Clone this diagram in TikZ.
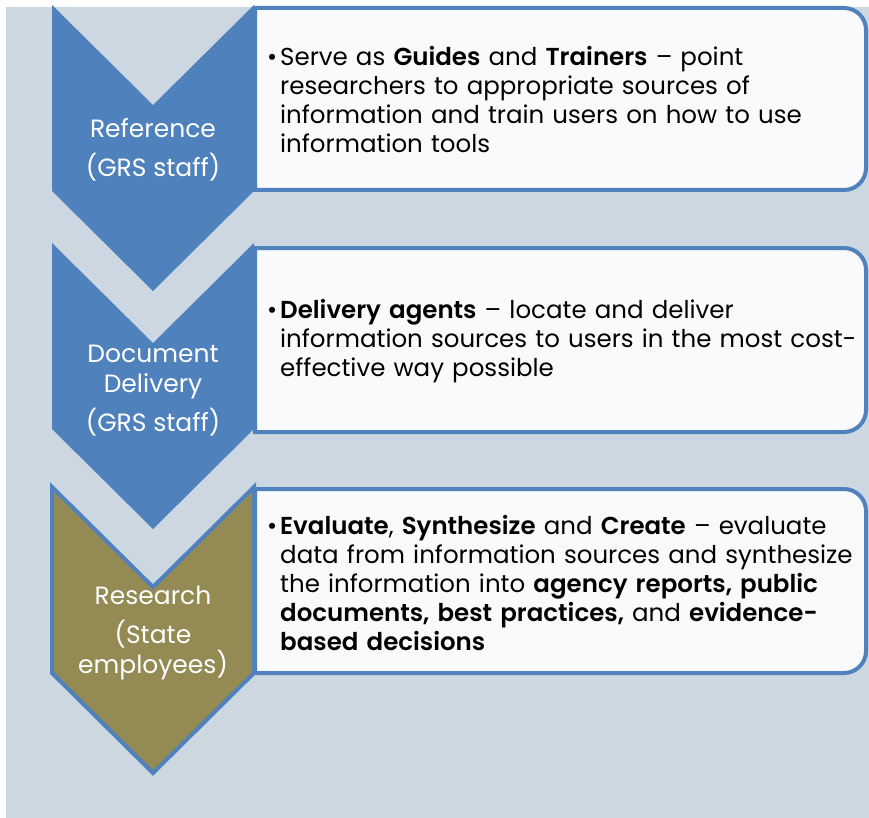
\documentclass[tikz,border=0pt]{standalone}
\usepackage{fontspec}
\setmainfont{Poppins}[BoldFont={Poppins SemiBold}]
\usepackage{xcolor}
\definecolor{mainBlue}{HTML}{4F81BD}
\definecolor{researchOlive}{HTML}{948A54}
\definecolor{panelBg}{HTML}{CDD7E1}
\definecolor{boxBg}{HTML}{F9FAFC}
\usetikzlibrary{positioning,calc}
\tikzset{%
  chevronStep/.style={%
    fill=mainBlue
  },
  researchStep/.style={%
    fill=researchOlive,
    draw=mainBlue,
    line width=4pt,
    line join=miter
  },
  infoBox/.style={%
    fill=boxBg,
    draw=mainBlue,
    line width=4pt
  },
  stepLabel/.style={%
    text=white,
    align=center,
    font=\fontsize{25}{30}\selectfont
  },
  infoText/.style={%
    anchor=west,
    text width=580pt,
    align=left,
    inner sep=0pt,
    font=\fontsize{24.5}{29}\selectfont
  }
}
\newcommand{\bulletItem}{\makebox[0pt][r]{\textbullet\hspace{3pt}}}

\begin{document}
\begin{tikzpicture}[x=1pt,y=-1pt]
  \useasboundingbox (0,0) rectangle (869,818);
  \fill[panelBg] (6,7) rectangle (869,818);

  % chevrons
  \foreach \t/\kind in {5/chevronStep,243/chevronStep,487/researchStep}{
    \path[\kind] (52,\t) -- (153,{\t+100}) -- (254,\t) -- (254,{\t+186})
      -- (153,{\t+286}) -- (52,{\t+186}) -- cycle;
  }

  % boxes, rounded only on the right
  \foreach \top/\bot in {8/190,248/432,489/673}{
    \draw[infoBox] (255,\bot) -- (255,\top) [rounded corners=22pt] -- (866,\top)
      -- (866,\bot) [sharp corners] -- (255,\bot) -- cycle;
  }

  \node[stepLabel] (refLabel) at (153,150) {Reference\\[9pt](GRS staff)};
  \node[stepLabel] (docLabel) at (153,391) {Document\\Delivery\\[9pt](GRS staff)};
  \node[stepLabel] (resLabel) at (153,633) {Research\\[9pt](State\\employees)};

  \node[infoText] (refText) at (280,100) {\bulletItem Serve as \textbf{Guides} and \textbf{Trainers} – point\newline
    researchers to appropriate sources of\newline
    information and train users on how to use\newline
    information tools};
  \node[infoText] (docText) at (280,341) {\bulletItem\textbf{Delivery agents} – locate and deliver\newline
    information sources to users in the most cost-\newline
    effective way possible};
  \node[infoText] (resText) at (280,583) {\bulletItem\textbf{Evaluate}, \textbf{Synthesize} and \textbf{Create} – evaluate\newline
    data from information sources and synthesize\newline
    the information into \textbf{agency reports, public\newline
    documents, best practices,} and \textbf{evidence-\newline
    based decisions}};
\end{tikzpicture}
\end{document}
